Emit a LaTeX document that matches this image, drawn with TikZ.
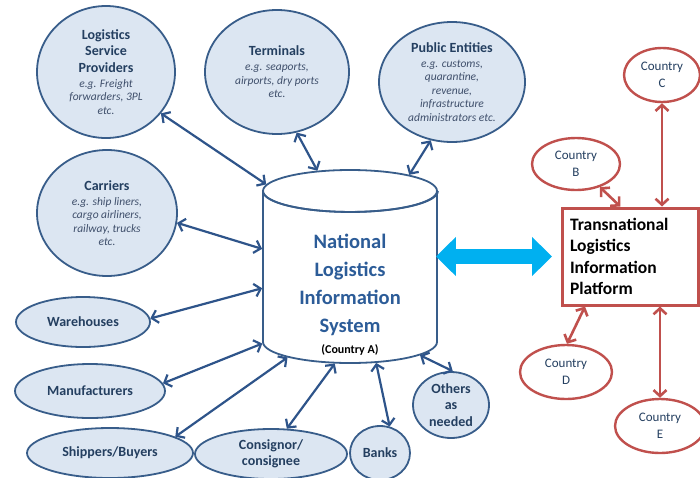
\documentclass[tikz,border=0pt]{standalone}
\usepackage{fontspec}
\setmainfont{Carlito}
\usepackage{xcolor}
\usepackage{tikz}
\usetikzlibrary{arrows.meta,shapes.geometric}
\definecolor{nlisline}{HTML}{385D8A}
\definecolor{nlisfill}{HTML}{DCE6F2}
\definecolor{nlistext}{HTML}{243F60}
\definecolor{nlisnote}{HTML}{3F4F6B}
\definecolor{nlisarrow}{HTML}{2E548A}
\definecolor{nlistitle}{HTML}{2C5C98}
\definecolor{tlipred}{HTML}{C0504D}
\definecolor{tlipcyan}{HTML}{00B0F0}
\newcommand{\eg}[1]{{\fontsize{11.5}{14}\selectfont\mdseries\itshape\color{nlisnote}#1}}

\begin{document}
\begin{tikzpicture}[x=1pt, y=-1pt,
  every node/.style={font=\fontsize{14}{16.5}\selectfont\bfseries, text=nlistext},
  actor/.style={ellipse, draw=nlisline, line width=1.8pt, fill=nlisfill,
                inner sep=0pt, align=center},
  country/.style={ellipse, draw=tlipred, line width=2.4pt, fill=white,
                  inner sep=0pt, align=center,
                  font=\fontsize{13}{16.5}\selectfont, text=nlistext},
  link/.style={{Straight Barb[length=6pt,width=13pt]}-{Straight Barb[length=6pt,width=13pt]},
               line width=2.2pt, draw=nlisarrow},
  redlink/.style={link, draw=tlipred, line width=2.6pt},
  bridge/.style={{Triangle[length=20pt,width=38pt]}-{Triangle[length=20pt,width=38pt]},
                 line width=15pt, draw=tlipcyan}
]
\useasboundingbox (0,0) rectangle (700,477);
\node[cylinder, shape border rotate=90, aspect=0.241, draw=nlisline, line width=1.8pt,
      fill=white, text width=174pt, minimum height=193pt, inner sep=0pt,
      anchor=shape center]
  (nlis) at (350,266.5) {};
\draw[nlisline, line width=1.8pt] (nlis.after top)
  arc[start angle=0, end angle=-180, x radius=87.5pt, y radius=21pt];
\node[align=center, text=nlistitle, font=\fontsize{20.5}{28}\selectfont\bfseries]
  (nlislabel) at (350,294.5)
  {National\\Logistics\\Information\\System\\[-7pt]{\fontsize{12}{14}\selectfont\color{black}(Country A)}};

\node[actor, minimum width=138pt, minimum height=132pt] (lsp) at (106,72)
  {Logistics\\Service\\Providers\\[-1.5pt]\eg{e.g. Freight}\\[-3pt]\eg{forwarders, 3PL}\\[-3pt]\eg{etc.}};
\node[actor, minimum width=144pt, minimum height=124pt] (terminals) at (277,72)
  {Terminals\\[-1.5pt]\eg{e.g. seaports,}\\[-3pt]\eg{airports, dry ports}\\[-3pt]\eg{etc.}};
\node[actor, minimum width=146pt, minimum height=120pt] (public) at (452,82)
  {Public Entities\\[-1.5pt]\eg{e.g. customs,}\\[-3pt]\eg{quarantine,}\\[-3pt]\eg{revenue,}\\[-3pt]\eg{infrastructure}\\[-3pt]\eg{administrators etc.}};
\node[actor, minimum width=140pt, minimum height=126pt] (carriers) at (107,213)
  {Carriers\\[-1.5pt]\eg{e.g. ship liners,}\\[-3pt]\eg{cargo airliners,}\\[-3pt]\eg{railway, trucks}\\[-3pt]\eg{etc.}};
\node[actor, minimum width=134pt, minimum height=50pt] (ware) at (83,322) {Warehouses};
\node[actor, minimum width=150pt, minimum height=54pt] (manuf) at (90,391) {Manufacturers};
\node[actor, minimum width=166pt, minimum height=50pt] (shippers) at (110,453) {Shippers/Buyers};
\node[actor, minimum width=152pt, minimum height=50pt] (consig) at (271,454) {Consignor/\\consignee};
\node[actor, minimum width=60pt, minimum height=54pt] (banks) at (380,453) {Banks};
\node[actor, minimum width=76pt, minimum height=66pt] (others) at (451,405) {Others\\as\\needed};

\node[draw=tlipred, line width=3pt, fill=white, minimum width=136pt, minimum height=97pt,
      inner xsep=8pt, text width=120pt, align=left, text=black,
      font=\fontsize{17.5}{21.5}\selectfont\bfseries]
  (tlip) at (630,256.5) {Transnational\\Logistics\\Information\\Platform};
\node[country, minimum width=76pt, minimum height=54pt] (cC) at (662,75) {Country\\C};
\node[country, minimum width=88pt, minimum height=52pt] (cB) at (576,164) {Country\\B};
\node[country, minimum width=92pt, minimum height=54pt] (cD) at (566,372) {Country\\D};
\node[country, minimum width=90pt, minimum height=54pt] (cE) at (660,426) {Country\\E};

\draw[link] (lsp.-37) -- (nlis.132);
\draw[link] (terminals.-72) -- (nlis.107);
\draw[link] (public.-110) -- (nlis.60);
\draw[link] (carriers.-8) -- (nlis.162);
\draw[link] (ware.3) -- (nlis.187);
\draw[link] (manuf.6) -- (nlis.217);
\draw[link] (shippers.14) -- (nlis.232);
\draw[link] (consig.58) -- (nlis.260);
\draw[link] (banks.70) -- (nlis.-73);
\draw[link] (others.87) -- (nlis.-48);

\draw[redlink] (cC.south) -- (cC.south |- tlip.north);
\draw[redlink] (cB.-44) -- (tlip.101);
\draw[redlink] (tlip.228) -- (cD.88);
\draw[redlink] (tlip.south -| cE.north) -- (cE.north);

\draw[bridge, shorten <=-2pt, shorten >=8.5pt] (nlis.0 |- tlip.west) -- (tlip.west);
\end{tikzpicture}
\end{document}
